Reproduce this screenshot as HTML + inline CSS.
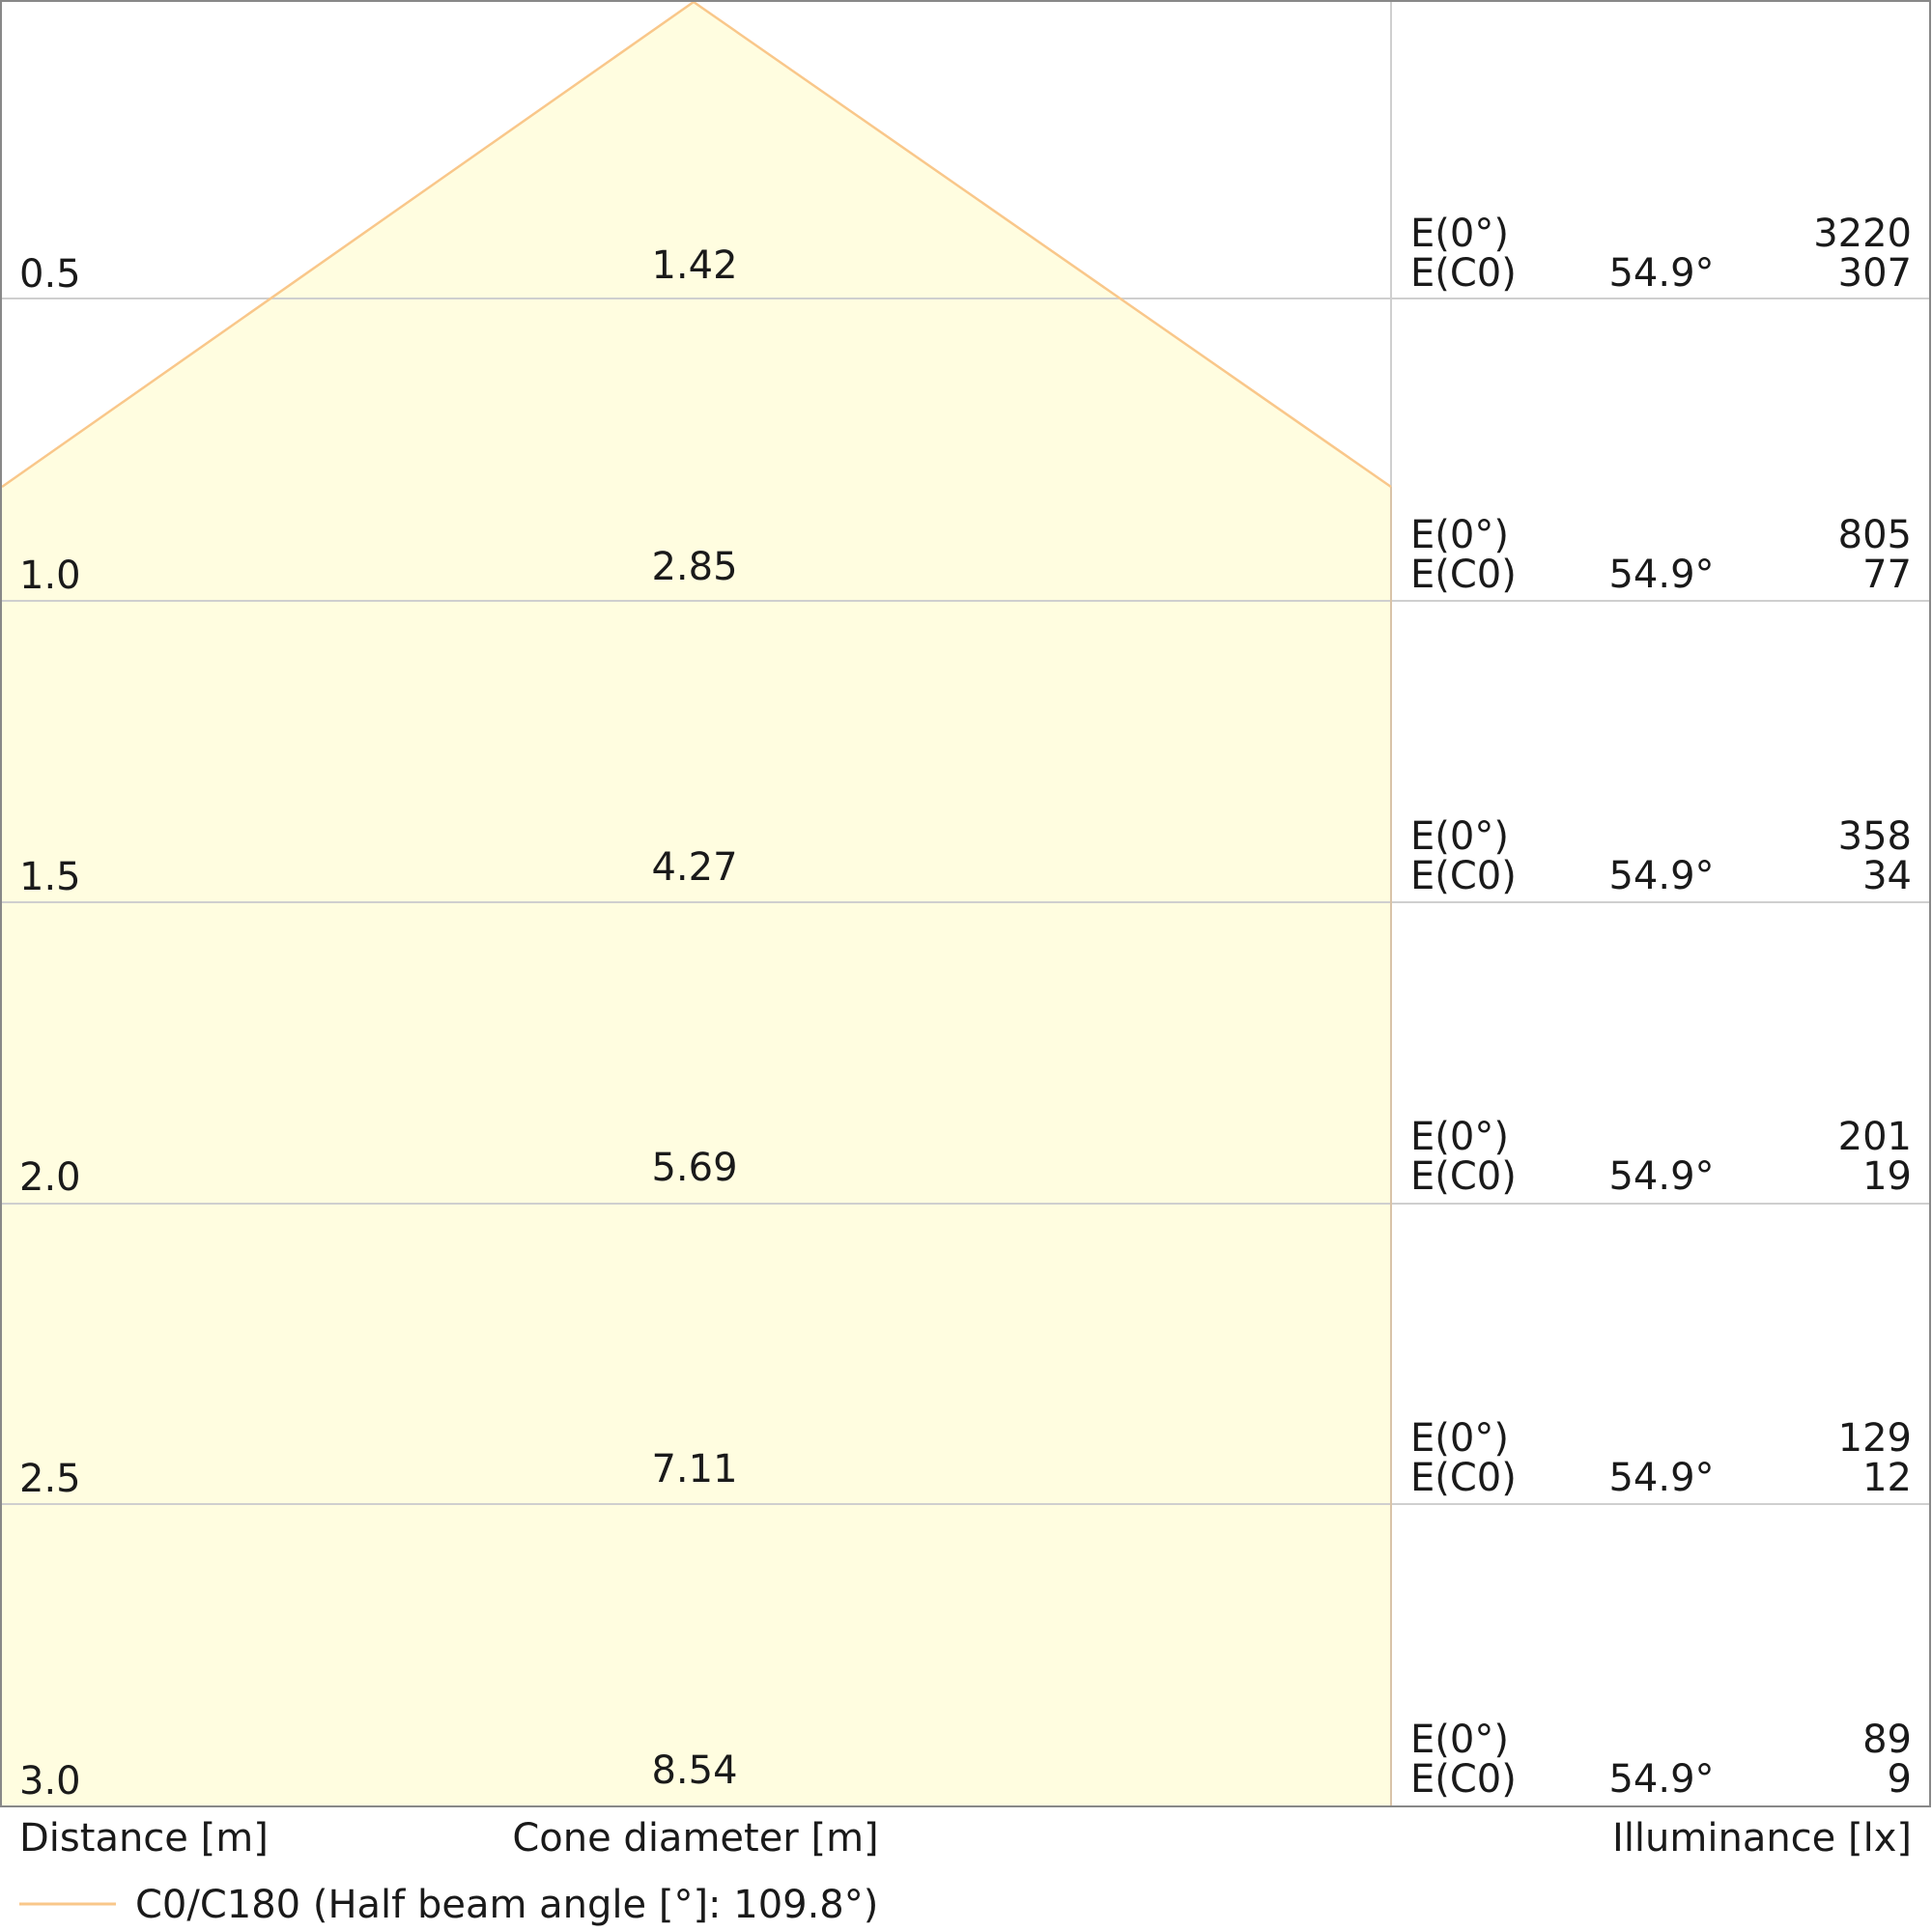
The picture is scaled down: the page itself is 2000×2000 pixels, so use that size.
<!DOCTYPE html>
<html><head><meta charset="utf-8"><style>html,body{margin:0;padding:0;background:#fff}svg{display:block}</style></head>
<body>
<svg width="2000" height="2000" viewBox="0 0 2000 2000" xmlns="http://www.w3.org/2000/svg" font-family="DejaVu Sans, Liberation Sans, sans-serif" font-size="40" fill="#1a1a1a">
<polygon points="2,504 718,2 1440,504 1440,1870 2,1870" fill="#fffde0"/>
<g stroke="#cfcfcf" stroke-width="2">
<line x1="2" y1="309" x2="1997" y2="309"/>
<line x1="2" y1="622" x2="1997" y2="622"/>
<line x1="2" y1="934" x2="1997" y2="934"/>
<line x1="2" y1="1246" x2="1997" y2="1246"/>
<line x1="2" y1="1557" x2="1997" y2="1557"/>
<line x1="1440" y1="2" x2="1440" y2="504"/>
</g>
<line x1="1440" y1="504" x2="1440" y2="1870" stroke="#d9c3a8" stroke-width="2"/>
<polyline points="2,504 718,2 1440,504" fill="none" stroke="#f9c78a" stroke-width="2.5"/>
<rect x="1" y="1" width="1997" height="1869" fill="none" stroke="#888" stroke-width="2"/>
<g>
<text x="20" y="297">0.5</text><text x="20" y="609">1.0</text><text x="20" y="921">1.5</text>
<text x="20" y="1232">2.0</text><text x="20" y="1544">2.5</text><text x="20" y="1857">3.0</text>
</g>
<g text-anchor="middle">
<text x="719" y="288">1.42</text><text x="719" y="600">2.85</text><text x="719" y="911">4.27</text>
<text x="719" y="1222">5.69</text><text x="719" y="1534">7.11</text><text x="719" y="1846">8.54</text>
</g>
<g>
<text x="1460" y="255">E(0°)</text><text x="1460" y="296">E(C0)</text>
<text x="1460" y="567">E(0°)</text><text x="1460" y="608">E(C0)</text>
<text x="1460" y="879">E(0°)</text><text x="1460" y="920">E(C0)</text>
<text x="1460" y="1190">E(0°)</text><text x="1460" y="1231">E(C0)</text>
<text x="1460" y="1502">E(0°)</text><text x="1460" y="1543">E(C0)</text>
<text x="1460" y="1814">E(0°)</text><text x="1460" y="1855">E(C0)</text>
</g>
<g text-anchor="middle">
<text x="1720" y="296">54.9°</text><text x="1720" y="608">54.9°</text><text x="1720" y="920">54.9°</text>
<text x="1720" y="1231">54.9°</text><text x="1720" y="1543">54.9°</text><text x="1720" y="1855">54.9°</text>
</g>
<g text-anchor="end">
<text x="1979" y="255">3220</text><text x="1979" y="296">307</text>
<text x="1979" y="567">805</text><text x="1979" y="608">77</text>
<text x="1979" y="879">358</text><text x="1979" y="920">34</text>
<text x="1979" y="1190">201</text><text x="1979" y="1231">19</text>
<text x="1979" y="1502">129</text><text x="1979" y="1543">12</text>
<text x="1979" y="1814">89</text><text x="1979" y="1855">9</text>
</g>
<text x="20" y="1916">Distance [m]</text>
<text x="720" y="1916" text-anchor="middle">Cone diameter [m]</text>
<text x="1979" y="1916" text-anchor="end">Illuminance [lx]</text>
<line x1="20" y1="1971" x2="120" y2="1971" stroke="#f9c78a" stroke-width="3"/>
<text x="140" y="1985">C0/C180 (Half beam angle [°]: 109.8°)</text>
</svg>
</body></html>
